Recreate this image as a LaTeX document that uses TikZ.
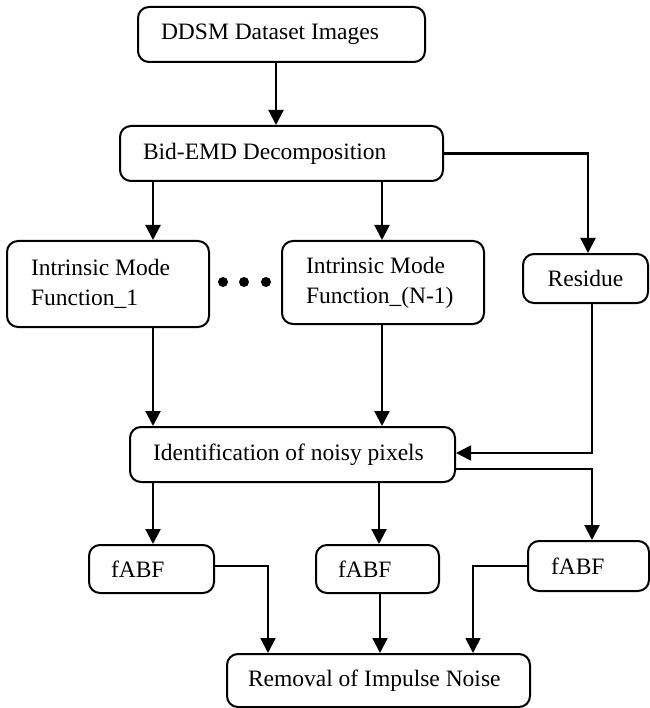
\documentclass[tikz,border=0pt]{standalone}
\usepackage{fontspec}
\setmainfont{Liberation Serif}
\usetikzlibrary{arrows.meta}
\newcommand{\lbox}[2]{\makebox[#1][l]{#2}}
\begin{document}
\begin{tikzpicture}[x=1pt,y=-1pt,
  box/.style={draw, line width=2pt, rounded corners=11pt, align=left,
    font=\fontsize{23.5}{30}\selectfont, inner ysep=0pt},
  arr/.style={line width=2.2pt, -{Triangle[width=15pt,length=15pt]}},
  thin arr/.style={line width=1.6pt, -{Triangle[width=15pt,length=15pt]}},
  dot/.style={circle, fill=black, inner sep=0pt, minimum size=10pt}]
\useasboundingbox (0,0) rectangle (649,708);
% boxes
\node[box, minimum width=287pt, minimum height=55pt, inner xsep=23pt] (ddsm) at (281.5,34.5) {\lbox{241pt}{DDSM Dataset Images}};
\node[box, minimum width=323pt, minimum height=55pt, inner xsep=23pt] (bid) at (281.5,153.5) {\lbox{277pt}{Bid-EMD Decomposition}};
\node[box, minimum width=202pt, minimum height=86pt, inner xsep=24pt] (imf1) at (108,284) {\lbox{154pt}{Intrinsic Mode}\\\lbox{154pt}{Function\_1}};
\node[box, minimum width=202pt, minimum height=83pt, inner xsep=24pt] (imfn) at (383,282.5) {\lbox{154pt}{Intrinsic Mode}\\\lbox{154pt}{Function\_(N-1)}};
\node[box, minimum width=125pt, minimum height=49pt, align=center, inner xsep=2pt] (res) at (585.5,278.5) {Residue};
\node[box, minimum width=325pt, minimum height=55pt, inner xsep=23pt] (ident) at (292.5,454.5) {\lbox{279pt}{Identification of noisy pixels}};
\node[box, minimum width=125pt, minimum height=48pt, inner xsep=22pt] (f1) at (151.5,569) {\lbox{81pt}{fABF}};
\node[box, minimum width=123pt, minimum height=48pt, inner xsep=22pt] (f2) at (377.5,569) {\lbox{79pt}{fABF}};
\node[box, minimum width=121pt, minimum height=50pt, inner xsep=23pt] (f3) at (588.5,566) {\lbox{75pt}{fABF}};
\node[box, minimum width=303pt, minimum height=53pt, inner xsep=21pt] (rem) at (378.5,680.5) {\lbox{261pt}{Removal of Impulse Noise}};
% dots
\node[dot] (d1) at (223,282) {};
\node[dot] (d2) at (244,282) {};
\node[dot] (d3) at (266,282) {};
% column coordinates
\coordinate (cA) at (276,0);
\coordinate (cB) at (153,0);
\coordinate (cC) at (382,0);
\coordinate (cD) at (588,0);
\coordinate (cE) at (592,0);
\coordinate (cF) at (379,0);
\coordinate (cG) at (268,0);
\coordinate (cH) at (380,0);
\coordinate (cI) at (473,0);
% connectors
\draw[arr] (ddsm.south -| cA) -- (bid.north -| cA);
\draw[arr] (bid.south -| cB) -- (imf1.north -| cB);
\draw[arr] (bid.south -| cC) -- (imfn.north -| cC);
\draw[arr] (bid.east) -| (res.north -| cD);
\draw[arr] (imf1.south -| cB) -- (ident.north -| cB);
\draw[arr] (imfn.south -| cC) -- (ident.north -| cC);
\draw[thin arr] (res.south -| cE) |- ([yshift=1.5pt]ident.east);
\draw[arr] ([yshift=-14.5pt]ident.east) -| (f3.north -| cE);
\draw[arr] (ident.south -| cB) -- (f1.north -| cB);
\draw[arr] (ident.south -| cF) -- (f2.north -| cF);
\draw[arr] ([yshift=3pt]f1.east) -| (rem.north -| cG);
\draw[arr] (f2.south -| cH) -- (rem.north -| cH);
\draw[thin arr] (f3.west) -| (rem.north -| cI);
\end{tikzpicture}
\end{document}
